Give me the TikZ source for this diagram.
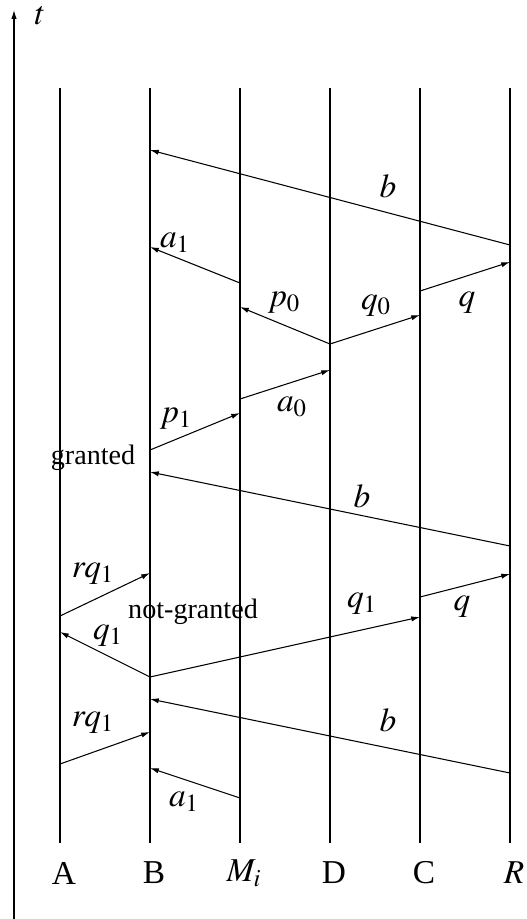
\documentclass[tikz,border=0pt]{standalone}
\usepackage{mathptmx}
\usepackage{fontspec}
\setmainfont{Liberation Serif}
\usetikzlibrary{arrows.meta}

\begin{document}
\begin{tikzpicture}[x=0.02cm,y=-0.02cm,
    life/.style={line width=1.3pt},
    msg/.style={line width=0.6pt,-{Latex[length=5pt,width=3pt]}},
    lbl/.style={font=\fontsize{19}{22}\selectfont},
    txt/.style={font=\fontsize{16}{19}\selectfont}]
  \useasboundingbox (0,0) rectangle (527,919);

  % time axis
  \draw[line width=0.6pt,-{Latex[length=5pt,width=3pt]}] (14,919) -- (14,10);
  \node[lbl] (tlab) at (40,16) {$t$};

  % process lines
  \foreach \x/\n/\lab in {60/A/A,150/B/B,240/M/$M_i$,330/D/D,420/C/C,510/R/$R$}{
    \draw[life] (\x,88) -- (\x,843);
    \node[lbl] (\n) at (\x+4,873) {\lab};
  }

  % first round
  \coordinate (r1) at (510,245);  \coordinate (b1) at (150,150);
  \draw[msg] (r1) -- (b1);
  \node[lbl] (lb1) at (388,186) {$b$};
  \coordinate (m1) at (240,283);  \coordinate (b2) at (150,247);
  \draw[msg] (m1) -- (b2);
  \node[lbl] (la1) at (175,243) {$a_1$};
  \coordinate (d1) at (330,344);
  \coordinate (m2) at (240,307);  \coordinate (c1) at (420,315);
  \draw[msg] (d1) -- (m2);
  \draw[msg] (d1) -- (c1);
  \node[lbl] (lp0) at (284,303) {$p_0$};
  \node[lbl] (lq0) at (376,306) {$q_0$};
  \coordinate (c2) at (420,291);  \coordinate (r2) at (510,262);
  \draw[msg] (c2) -- (r2);
  \node[lbl] (lq) at (467,303) {$q$};
  \coordinate (m3) at (240,399);  \coordinate (d2) at (330,370);
  \draw[msg] (m3) -- (d2);
  \node[lbl] (la0) at (292,407) {$a_0$};
  \coordinate (b3) at (150,450);  \coordinate (m4) at (240,413);
  \draw[msg] (b3) -- (m4);
  \node[lbl] (lp1) at (176,419) {$p_1$};
  \node[txt] (gr) at (93,458) {granted};

  % second round
  \coordinate (r3) at (510,546);  \coordinate (b4) at (150,472);
  \draw[msg] (r3) -- (b4);
  \node[lbl] (lb2) at (362,496) {$b$};
  \coordinate (a1) at (60,616);  \coordinate (b5) at (150,573);
  \draw[msg] (a1) -- (b5);
  \node[lbl] (lrq1) at (93,574) {$rq_1$};
  \coordinate (b6) at (150,677);  \coordinate (a2) at (60,632);
  \coordinate (c3) at (420,617);
  \draw[msg] (b6) -- (a2);
  \draw[msg] (b6) -- (c3);
  \node[lbl] (lq1) at (108,636) {$q_1$};
  \node[lbl] (lq1b) at (362,604) {$q_1$};
  \node[txt] (ng) at (193,612) {not-granted};
  \coordinate (c4) at (420,597);  \coordinate (r4) at (510,574);
  \draw[msg] (c4) -- (r4);
  \node[lbl] (lqb) at (462,607) {$q$};

  % third round
  \coordinate (r5) at (510,773);  \coordinate (b7) at (150,699);
  \draw[msg] (r5) -- (b7);
  \node[lbl] (lb3) at (388,720) {$b$};
  \coordinate (a3) at (60,764);  \coordinate (b8) at (150,732);
  \draw[msg] (a3) -- (b8);
  \node[lbl] (lrq2) at (93,723) {$rq_1$};
  \coordinate (m5) at (240,798);  \coordinate (b9) at (150,768);
  \draw[msg] (m5) -- (b9);
  \node[lbl] (la2) at (184,802) {$a_1$};
\end{tikzpicture}
\end{document}
